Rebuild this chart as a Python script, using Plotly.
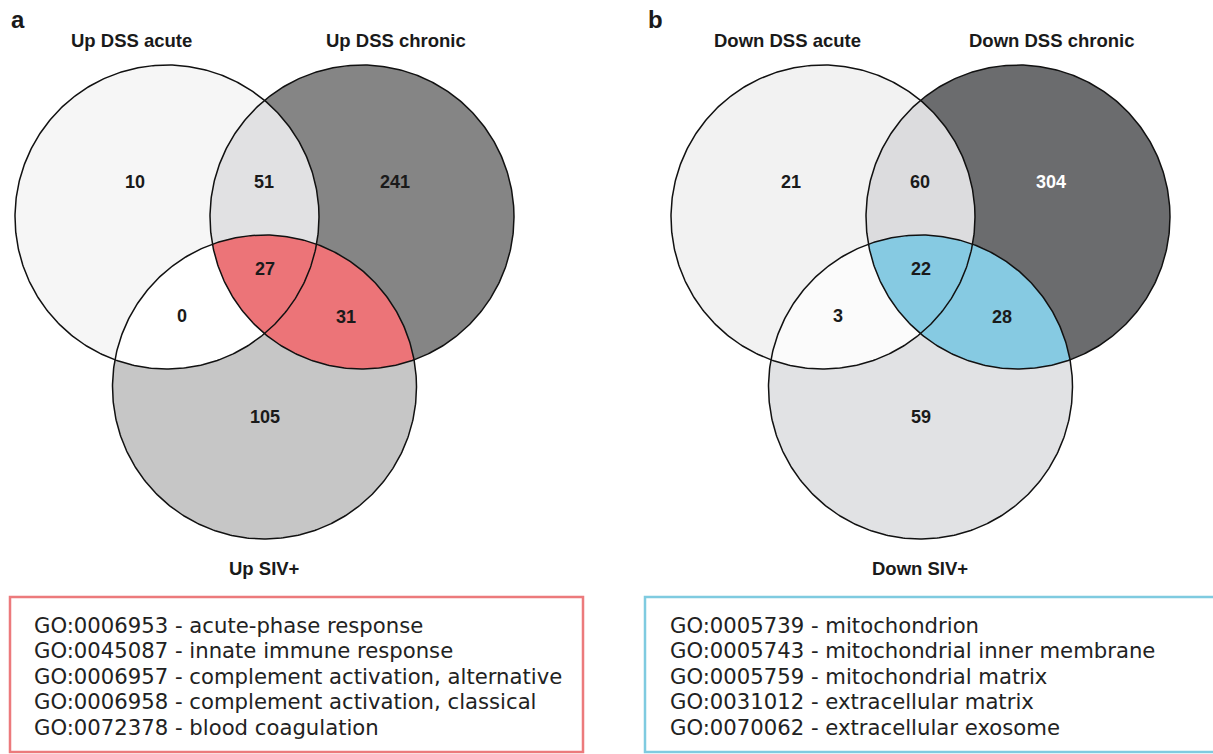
import numpy as np
import plotly.graph_objects as go

# ---------------- data ----------------
panel_letters = ["a", "b"]
set_names_up = ["Up DSS acute", "Up DSS chronic", "Up SIV+"]
set_names_down = ["Down DSS acute", "Down DSS chronic", "Down SIV+"]
region_keys = ["A", "AB", "B", "AC", "ABC", "BC", "C"]
counts_up = [10, 51, 241, 0, 27, 31, 105]
counts_down = [21, 60, 304, 3, 22, 28, 59]
go_terms_up = [
    "GO:0006953 - acute-phase response",
    "GO:0045087 - innate immune response",
    "GO:0006957 - complement activation, alternative",
    "GO:0006958 - complement activation, classical",
    "GO:0072378 - blood coagulation",
]
go_terms_down = [
    "GO:0005739 - mitochondrion",
    "GO:0005743 - mitochondrial inner membrane",
    "GO:0005759 - mitochondrial matrix",
    "GO:0031012 - extracellular matrix",
    "GO:0070062 - extracellular exosome",
]

# ---------------- layout / style ----------------
W, H = 1213, 754
R = 152
centers = {"A": (167.0, 217.0), "B": (362.0, 217.0), "C": (264.5, 387.0)}
panel_dx = [0, 656]
label_pos = {"A": (135, 183), "AB": (264, 183), "B": (395, 183),
             "AC": (182, 317), "ABC": (265, 270), "BC": (346, 318), "C": (265, 418)}
title_pos = [(131, 40), (396, 40), (264, 568)]
colors = [
    {"A": "#f6f6f6", "B": "#858585", "C": "#c6c6c6", "AB": "#e1e1e3",
     "AC": "#ffffff", "BC": "#ec7478", "ABC": "#ec7478"},
    {"A": "#f2f2f2", "B": "#6b6c6e", "C": "#e1e2e4", "AB": "#dcdcde",
     "AC": "#fbfbfb", "BC": "#86cae2", "ABC": "#86cae2"},
]
num_colors = [{k: "#1a1a1a" for k in region_keys}, {k: ("#ffffff" if k == "B" else "#1a1a1a") for k in region_keys}]
box_geom = [(10, 597, 583, 752), (645, 597, 1216, 752)]
box_colors = ["#ec7a7c", "#7fcbe0"]
text_x = [32, 668]
line_y0, line_dy = 625, 25.6

BOLD = "Liberation Sans, Arial, sans-serif"


def circle(c, r, n=500):
    t = np.linspace(0, 2 * np.pi, n)
    return c[0] + r * np.cos(t), c[1] + r * np.sin(t)


def intersections(c1, c2, r):
    c1, c2 = np.array(c1), np.array(c2)
    d = np.linalg.norm(c2 - c1)
    mid = (c1 + c2) / 2
    h = np.sqrt(r * r - (d / 2) ** 2)
    u = (c2 - c1) / d
    p = np.array([-u[1], u[0]])
    return mid + h * p, mid - h * p


def short_arc(c, r, p1, p2, n=120):
    a1 = np.arctan2(p1[1] - c[1], p1[0] - c[0])
    a2 = np.arctan2(p2[1] - c[1], p2[0] - c[0])
    d = (a2 - a1 + np.pi) % (2 * np.pi) - np.pi
    t = a1 + np.linspace(0, 1, n) * d
    return c[0] + r * np.cos(t), c[1] + r * np.sin(t)


def lens(c1, c2, r):
    P, Q = intersections(c1, c2, r)
    x1, y1 = short_arc(c1, r, P, Q)
    x2, y2 = short_arc(c2, r, Q, P)
    return np.concatenate([x1, x2]), np.concatenate([y1, y2])


def inner_point(c1, c2, other, r):
    P, Q = intersections(c1, c2, r)
    o = np.array(other)
    return P if np.linalg.norm(P - o) < np.linalg.norm(Q - o) else Q


def triple(cA, cB, cC, r):
    iab = inner_point(cA, cB, cC, r)
    iac = inner_point(cA, cC, cB, r)
    ibc = inner_point(cB, cC, cA, r)
    xa, ya = short_arc(cA, r, iab, iac)
    xc, yc = short_arc(cC, r, iac, ibc)
    xb, yb = short_arc(cB, r, ibc, iab)
    return np.concatenate([xa, xc, xb]), np.concatenate([ya, yc, yb])


fig = go.Figure()
annotations = []
shapes = []

panels = [(set_names_up, counts_up, go_terms_up), (set_names_down, counts_down, go_terms_down)]
for pi, (names, counts, terms) in enumerate(panels):
    dx = panel_dx[pi]
    cs = {k: (v[0] + dx, v[1]) for k, v in centers.items()}
    col = colors[pi]
    # base circles
    for k in ["A", "B", "C"]:
        x, y = circle(cs[k], R)
        fig.add_trace(go.Scatter(x=x, y=y, fill="toself", fillcolor=col[k], mode="lines",
                                 line=dict(width=0, color=col[k]), hoverinfo="skip", showlegend=False))
    # pairwise lenses
    for k1, k2 in [("A", "B"), ("A", "C"), ("B", "C")]:
        x, y = lens(cs[k1], cs[k2], R)
        fig.add_trace(go.Scatter(x=x, y=y, fill="toself", fillcolor=col[k1 + k2], mode="lines",
                                 line=dict(width=0, color=col[k1 + k2]), hoverinfo="skip", showlegend=False))
    # triple
    x, y = triple(cs["A"], cs["B"], cs["C"], R)
    fig.add_trace(go.Scatter(x=x, y=y, fill="toself", fillcolor=col["ABC"], mode="lines",
                             line=dict(width=0, color=col["ABC"]), hoverinfo="skip", showlegend=False))
    # outlines
    for k in ["A", "B", "C"]:
        x, y = circle(cs[k], R)
        fig.add_trace(go.Scatter(x=x, y=y, mode="lines", line=dict(width=1.5, color="#111111"),
                                 hoverinfo="skip", showlegend=False))
    # counts
    fig.add_trace(go.Scatter(
        x=[label_pos[k][0] + dx for k in region_keys],
        y=[label_pos[k][1] for k in region_keys],
        mode="text", text=[str(c) for c in counts],
        textfont=dict(family=BOLD, size=18, color=[num_colors[pi][k] for k in region_keys], weight="bold"),
        hoverinfo="skip", showlegend=False))
    # titles
    for name, (tx, ty) in zip(names, title_pos):
        annotations.append(dict(x=tx + dx, y=ty, xref="x", yref="y", text="<b>%s</b>" % name,
                                showarrow=False, font=dict(family=BOLD, size=18.5, color="#1a1a1a"),
                                xanchor="center", yanchor="middle"))
    # panel letter
    annotations.append(dict(x=[9, 646][pi], y=19, xref="x", yref="y", text="<b>%s</b>" % panel_letters[pi],
                            showarrow=False, font=dict(family=BOLD, size=24, color="#1a1a1a"),
                            xanchor="left", yanchor="middle"))
    # GO box
    x0, y0, x1, y1 = box_geom[pi]
    shapes.append(dict(type="rect", xref="x", yref="y", x0=x0, y0=y0, x1=x1, y1=y1,
                       line=dict(color=box_colors[pi], width=2.5), fillcolor="rgba(0,0,0,0)"))
    for li, term in enumerate(terms):
        annotations.append(dict(x=text_x[pi], y=line_y0 + li * line_dy, xref="x", yref="y", text=term,
                                showarrow=False, font=dict(family="DejaVu Sans, Verdana, sans-serif", size=21.2,
                                                           color="#222222"),
                                xanchor="left", yanchor="middle"))

fig.update_layout(
    width=W, height=H, margin=dict(l=0, r=0, t=0, b=0),
    paper_bgcolor="white", plot_bgcolor="white",
    xaxis=dict(range=[0, W], visible=False, fixedrange=True),
    yaxis=dict(range=[H, 0], visible=False, fixedrange=True),
    annotations=annotations, shapes=shapes,
)

fig.write_html("out.html", post_script="document.body.style.margin='0';", config={"displayModeBar": False})
